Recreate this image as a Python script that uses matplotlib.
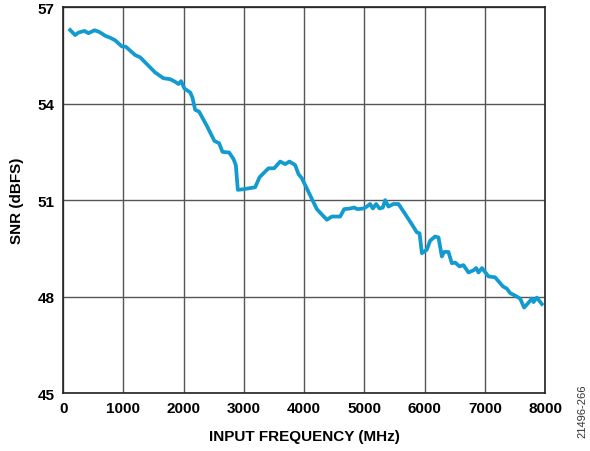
import matplotlib
matplotlib.use("Agg")
import matplotlib.pyplot as plt

freq_mhz = [116, 199, 254, 354, 420, 520, 586, 642, 697, 780, 863, 974, 1040, 1195,
            1278, 1527, 1665, 1776, 1859, 1914, 1958, 2013, 2108, 2146, 2191, 2257,
            2385, 2511, 2589, 2645, 2755, 2827, 2866, 2899, 2993, 3187, 3259, 3408,
            3502, 3602, 3685, 3756, 3851, 3906, 3962, 4211, 4377, 4460, 4598, 4664,
            4763, 4830, 4885, 4985, 5040, 5095, 5140, 5195, 5251, 5306, 5344, 5399,
            5482, 5565, 5676, 5787, 5870, 5915, 5954, 6036, 6091, 6174, 6230, 6285,
            6324, 6395, 6451, 6506, 6578, 6644, 6728, 6811, 6855, 6894, 6950, 7060,
            7170, 7298, 7364, 7419, 7502, 7585, 7651, 7723, 7779, 7806, 7862, 7945]
snr_dbfs = [56.29, 56.13, 56.21, 56.26, 56.19, 56.28, 56.24, 56.18, 56.11, 56.05, 55.97,
            55.78, 55.77, 55.51, 55.44, 54.97, 54.79, 54.76, 54.68, 54.61, 54.70, 54.47,
            54.35, 54.19, 53.81, 53.75, 53.31, 52.84, 52.77, 52.50, 52.48, 52.28, 52.09,
            51.32, 51.34, 51.40, 51.71, 51.99, 51.99, 52.20, 52.12, 52.20, 52.09, 51.81,
            51.68, 50.72, 50.39, 50.49, 50.49, 50.72, 50.74, 50.77, 50.72, 50.74, 50.80,
            50.88, 50.74, 50.88, 50.74, 50.77, 51.00, 50.80, 50.88, 50.88, 50.57, 50.25,
            50.00, 49.97, 49.35, 49.46, 49.74, 49.87, 49.84, 49.25, 49.39, 49.39, 49.04,
            49.06, 48.94, 48.98, 48.75, 48.82, 48.89, 48.75, 48.89, 48.63, 48.60, 48.32,
            48.25, 48.11, 48.03, 47.94, 47.66, 47.81, 47.94, 47.83, 47.97, 47.77]

x_ticks = [0, 1000, 2000, 3000, 4000, 5000, 6000, 7000, 8000]
y_ticks = [45, 48, 51, 54, 57]

plt.rcParams['font.family'] = ['Liberation Sans', 'DejaVu Sans']

fig = plt.figure(figsize=(5.9, 4.52), dpi=100)
ax = fig.add_axes([0.107, 0.128, 0.817, 0.854])

ax.plot(freq_mhz, snr_dbfs, color='#139bd0', linewidth=2.7, solid_joinstyle='round')

ax.set_xlim(0, 8000)
ax.set_ylim(45, 57)
ax.set_xticks(x_ticks)
ax.set_yticks(y_ticks)
ax.grid(True, color='#555555', linewidth=1.0)
ax.tick_params(length=0, labelsize=11, pad=6)
for lab in ax.get_xticklabels() + ax.get_yticklabels():
    lab.set_fontweight('bold')
for sp in ax.spines.values():
    sp.set_color('#222222')
    sp.set_linewidth(1.2)

ax.set_xlabel('INPUT FREQUENCY (MHz)', fontsize=11, fontweight='bold', labelpad=10)
ax.set_ylabel('SNR (dBFS)', fontsize=11, fontweight='bold', labelpad=10)

fig.text(0.988, 0.09, '21496-266', rotation=90, fontsize=8, color='#333333',
         ha='center', va='center')

fig.savefig('out.png', dpi=100)
